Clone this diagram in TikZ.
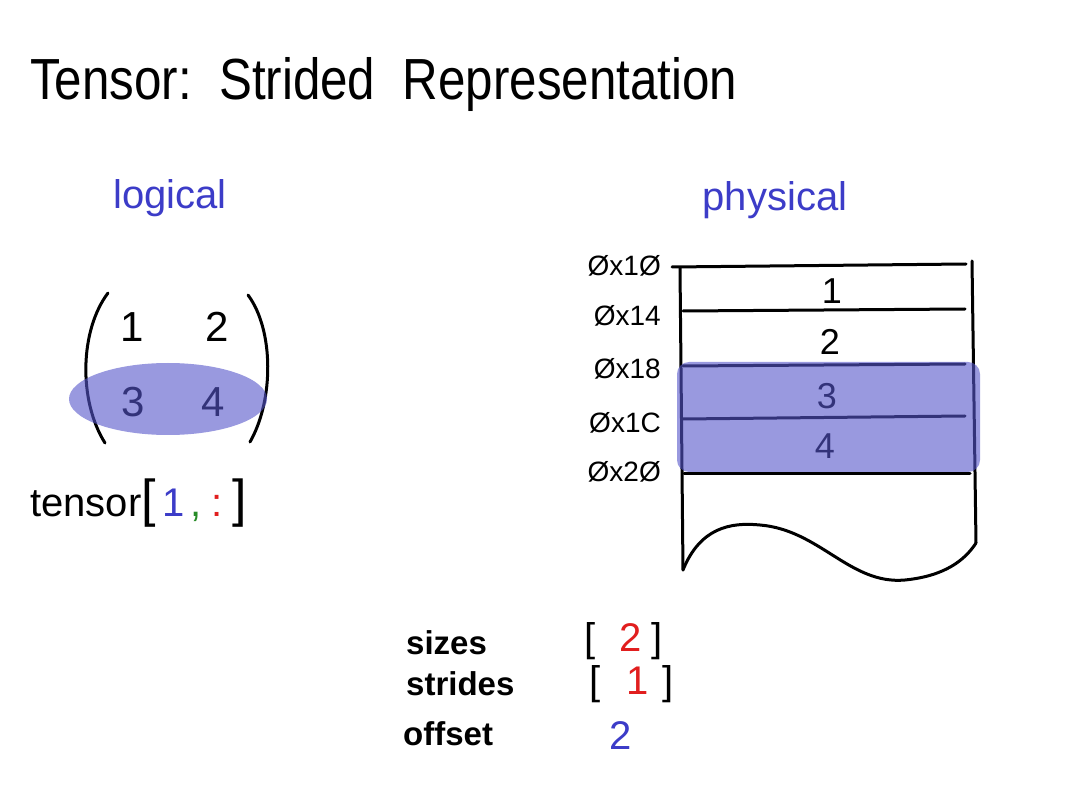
\documentclass[tikz,border=0pt]{standalone}
\usepackage{fontspec}
\setmainfont{Liberation Sans}
\definecolor{penblue}{RGB}{60,60,200}
\definecolor{hl}{RGB}{85,85,203}
\definecolor{penred}{RGB}{225,30,30}
\definecolor{pengreen}{RGB}{40,140,40}
\tikzset{
  pen/.style={line width=3pt, line cap=round, line join=round, draw=black},
  hilite/.style={fill=hl, fill opacity=0.6, draw=none},
  lbl/.style={inner sep=0pt, text=black},
  fs/.style={font=\fontsize{#1}{#1}\selectfont},
  fsb/.style={font=\fontsize{#1}{#1}\selectfont\bfseries}
}
\begin{document}
\begin{tikzpicture}[x=1pt,y=-1pt]
\useasboundingbox (0,0) rectangle (1080,810);
\fill[white] (0,0) rectangle (1080,810);

% title
\node[lbl, fs=58, anchor=base west, xscale=0.85] (title) at (30,100) {Tensor:\ \ Strided\ \ Representation};

% headings
\node[lbl, fs=40, text=penblue] (logical) at (170,198) {logical};
\node[lbl, fs=40, text=penblue] (physical) at (775,200) {physical};

% matrix
\draw[pen] (108,293) .. controls (80,330) and (78,400) .. (105,443);
\draw[pen] (248,295) .. controls (274,330) and (274,400) .. (250,442);
\node[lbl, fs=42] (m1) at (132,327) {1};
\node[lbl, fs=42] (m2) at (217,327) {2};
\node[lbl, fs=42] (m3) at (133,402) {3};
\node[lbl, fs=42] (m4) at (213,402) {4};
\fill[hilite] (168,399) ellipse [x radius=99, y radius=36];

% indexing expression
\node[lbl, fs=40, anchor=west] (expr) at (30,503) {tensor{\fontsize{52}{52}\selectfont[}\,\textcolor{penblue}{1}\hspace{6pt}\textcolor{pengreen}{,}\hspace{10pt}\textcolor{penred}{:}\hspace{10pt}{\fontsize{52}{52}\selectfont]}};

% memory block
\coordinate (tl) at (680,268);
\coordinate (bl) at (683,570);
\coordinate (tr) at (972,261);
\coordinate (br) at (976,543);
\draw[pen] (tl) -- (bl);
\draw[pen] (tr) -- (br);
\draw[pen] (672,267) -- (966,264);
\draw[pen] (683,311) -- (965,309);
\draw[pen] (683,366) -- (965,364);
\draw[pen] (683,419) -- (965,416);
\draw[pen] (684,474) -- (970,474);
\draw[pen] (bl) .. controls (700,528) and (730,522) .. (760,525)
             .. controls (820,530) and (850,585) .. (905,580)
             .. controls (945,576) and (965,560) .. (br);

% addresses
\node[lbl, fs=28, anchor=east] (a10) at (661,266) {Øx1Ø};
\node[lbl, fs=28, anchor=east] (a14) at (661,316) {Øx14};
\node[lbl, fs=28, anchor=east] (a18) at (661,369) {Øx18};
\node[lbl, fs=28, anchor=east] (a1c) at (661,423) {Øx1C};
\node[lbl, fs=28, anchor=east] (a20) at (661,472) {Øx2Ø};

% memory values
\node[lbl, fs=36] (v1) at (832,291) {1};
\node[lbl, fs=36] (v2) at (830,342) {2};
\node[lbl, fs=36] (v3) at (827,396) {3};
\node[lbl, fs=36] (v4) at (825,446) {4};
\fill[hilite, rounded corners=12pt] (677,362) rectangle (980,472);

% metadata
\node[lbl, fsb=33, anchor=west] (sizes) at (406,643) {sizes};
\node[lbl, fsb=33, anchor=west] (strides) at (406,684) {strides};
\node[lbl, fsb=33, anchor=west] (offset) at (403,734) {offset};
\node[lbl, fs=40, anchor=west] (szv) at (584,641) {[\hspace{24pt}\textcolor{penred}{2}\hspace{10pt}]};
\node[lbl, fs=40, anchor=west] (stv) at (589,684) {[\hspace{26pt}\textcolor{penred}{1}\hspace{14pt}]};
\node[lbl, fs=40, text=penblue] (ofv) at (621,736) {2};
\end{tikzpicture}
\end{document}
